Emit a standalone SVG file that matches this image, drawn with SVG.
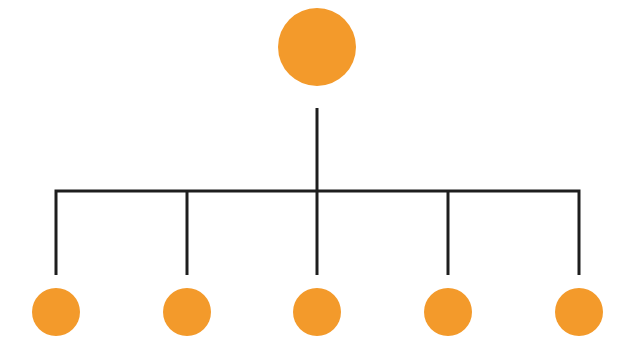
<svg xmlns="http://www.w3.org/2000/svg" width="620" height="345" viewBox="0 0 620 345">
<style>
.node{fill:#F39A2B}
.conn{fill:none;stroke:#1e1e1e;stroke-width:3;stroke-linecap:butt;stroke-linejoin:miter}
</style>
<rect width="620" height="345" fill="#ffffff"/>
<g id="connectors">
<path class="conn" d="M317 108 V191"/>
<path class="conn" d="M56 275 V191 H579 V275"/>
<path class="conn" d="M187 191 V275"/>
<path class="conn" d="M317 191 V275"/>
<path class="conn" d="M448 191 V275"/>
</g>
<g id="root"><circle class="node" cx="317" cy="47" r="39"/></g>
<g id="child1"><circle class="node" cx="56" cy="312" r="24"/></g>
<g id="child2"><circle class="node" cx="187" cy="312" r="24"/></g>
<g id="child3"><circle class="node" cx="317" cy="312" r="24"/></g>
<g id="child4"><circle class="node" cx="448" cy="312" r="24"/></g>
<g id="child5"><circle class="node" cx="579" cy="312" r="24"/></g>
</svg>
